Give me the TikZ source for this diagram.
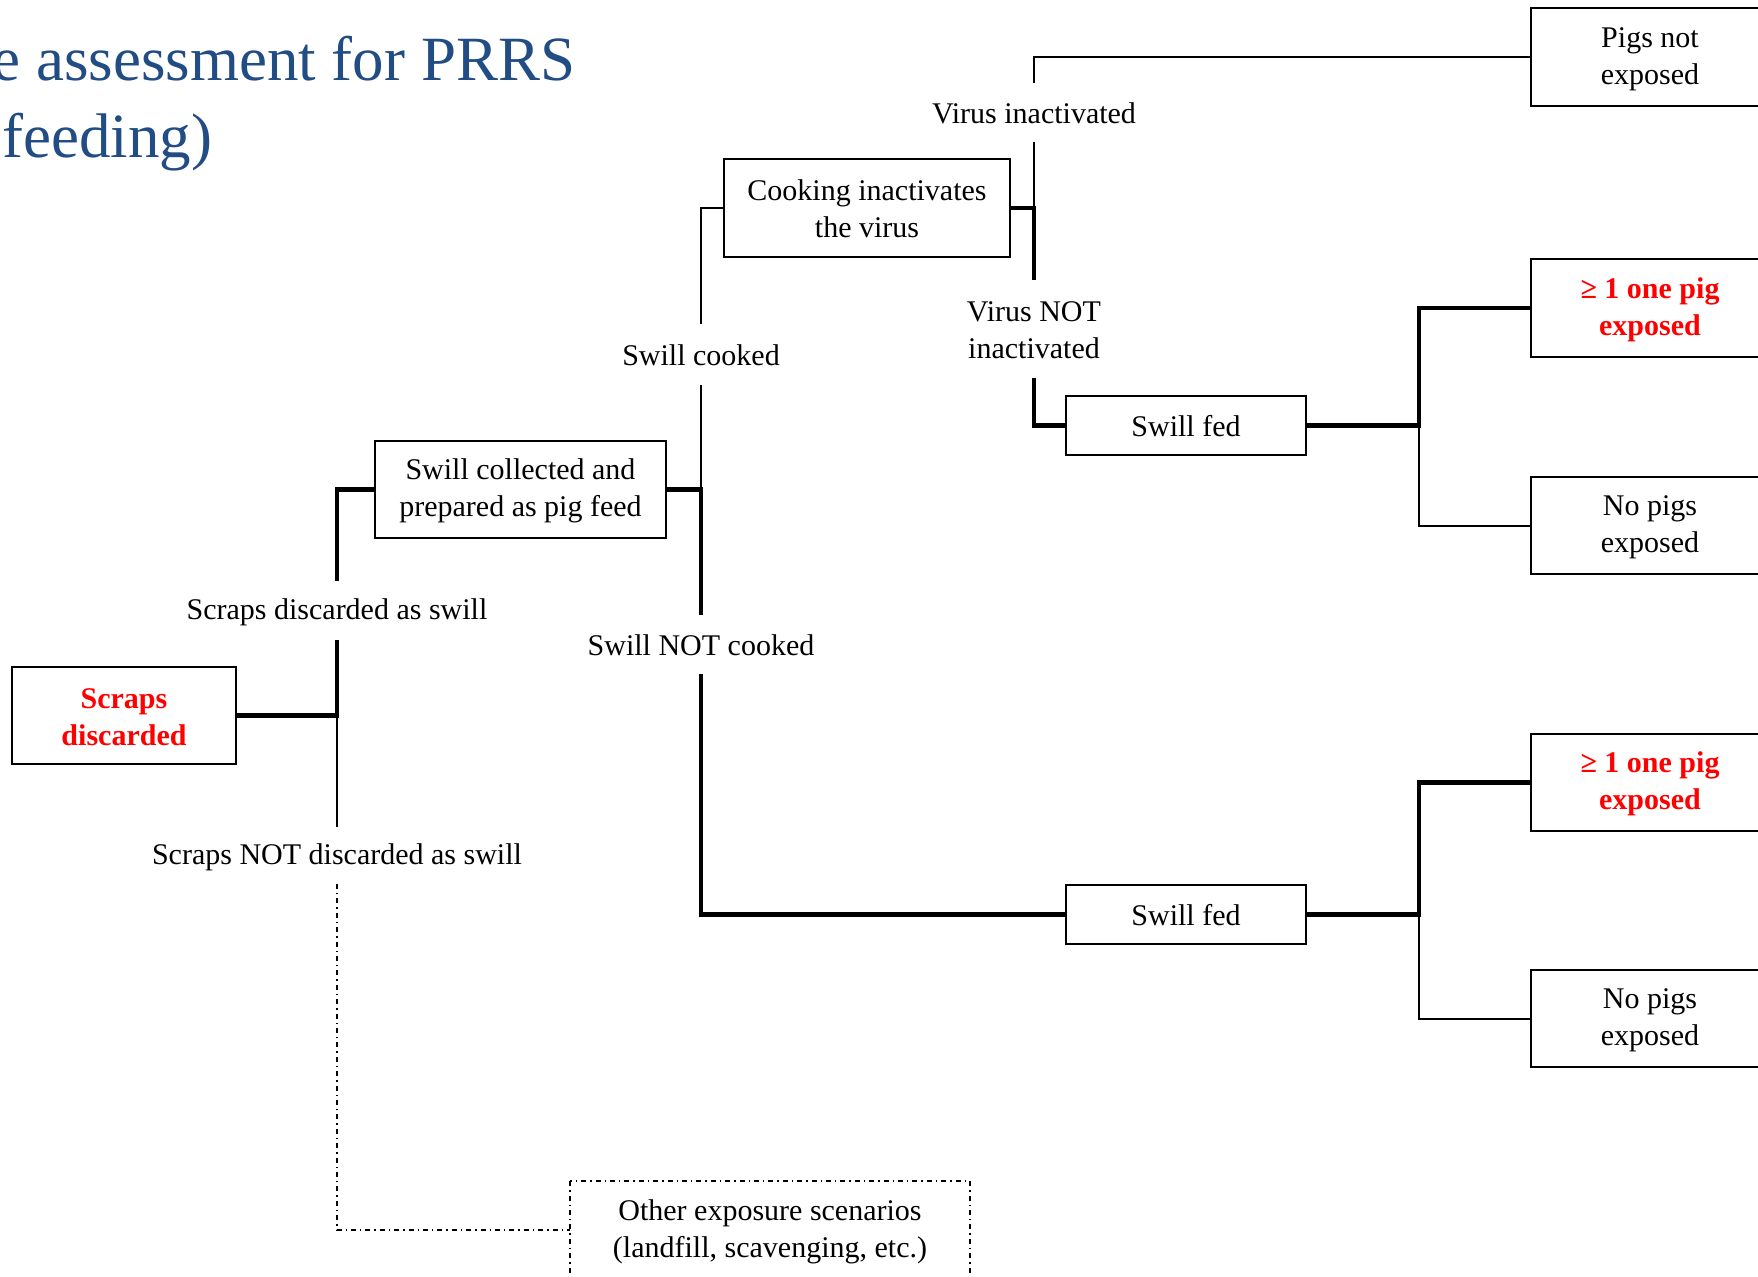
\documentclass[tikz,border=0pt]{standalone}
\usepackage{fontspec}
\setmainfont{Liberation Serif}
\usetikzlibrary{calc}
\definecolor{titleblue}{RGB}{33,76,132}
\definecolor{alertred}{RGB}{255,0,0}
\newcommand\ms{\rule[-1pt]{0pt}{13pt}}
\begin{document}
\begin{tikzpicture}[x=0.5pt,y=-0.5pt,
  every node/.style={font=\fontsize{15}{18.5}\selectfont},
  box/.style={draw=black,line width=0.9pt,inner sep=0pt,align=center},
  redtxt/.style={text=alertred,font=\fontsize{15}{18.5}\selectfont\bfseries},
  lbl/.style={inner sep=0pt,align=center},
  thk/.style={line width=2.25pt},
  thn/.style={line width=1pt},
  dd/.style={line width=0.8pt,dash pattern=on 2.5pt off 2pt on 0.7pt off 2pt}]
\useasboundingbox (0,0) rectangle (1758,1276);
% title
\node[anchor=base west,inner sep=0pt,text=titleblue,font=\fontsize{31.5}{38}\selectfont] (t1) at (-8,80) {e assessment for PRRS};
\node[anchor=base west,inner sep=0pt,text=titleblue,font=\fontsize{31.5}{38}\selectfont] (t2) at (2,157) {feeding)};
% boxes
\node[box,redtxt,minimum width=112pt,minimum height=48.5pt] (sd) at (124,715.5) {\ms Scraps\\\ms discarded};
\node[box,minimum width=145.5pt,minimum height=48.5pt] (sc) at (520.5,489.5) {\ms Swill collected and\\\ms prepared as pig feed};
\node[box,minimum width=143pt,minimum height=49pt] (ck) at (867,208) {\ms Cooking inactivates\\\ms the virus};
\node[box,minimum width=120pt,minimum height=29.5pt] (sf1) at (1186,425.5) {\ms Swill fed};
\node[box,minimum width=120pt,minimum height=29.5pt] (sf2) at (1186,914.5) {\ms Swill fed};
\node[box,minimum width=119pt,minimum height=49pt] (pne) at (1650,57) {\ms Pigs not\\\ms exposed};
\node[box,redtxt,minimum width=119pt,minimum height=49pt] (pe1) at (1650,308) {\ms ≥ 1 one pig\\\ms exposed};
\node[box,minimum width=119pt,minimum height=48.5pt] (np1) at (1650,525.5) {\ms No pigs\\\ms exposed};
\node[box,redtxt,minimum width=119pt,minimum height=48.5pt] (pe2) at (1650,782.5) {\ms ≥ 1 one pig\\\ms exposed};
\node[box,minimum width=119pt,minimum height=48.5pt] (np2) at (1650,1018.5) {\ms No pigs\\\ms exposed};
\node[box,draw=none,minimum width=199pt,minimum height=48pt] (oth) at (770,1230) {\ms Other exposure scenarios\\\ms (landfill, scavenging, etc.)};
\draw[dd] (oth.north west) rectangle (oth.south east);
% labels
\node[lbl,minimum height=29.5pt] (L1) at (337,610.5) {\ms Scraps discarded as swill};
\node[lbl,minimum height=28pt] (L2) at (337,855.5) {\ms Scraps NOT discarded as swill};
\node[lbl,minimum height=30pt] (L3) at (701,354.5) {\ms Swill cooked};
\node[lbl,minimum height=29.5pt] (L4) at (701,644.5) {\ms Swill NOT cooked};
\node[lbl,minimum height=29.5pt] (L5) at (1034,112.5) {\ms Virus inactivated};
\node[lbl,minimum height=49pt] (L6) at (1034,329) {\ms Virus NOT\\\ms inactivated};
% junctions
\coordinate (j1) at (L1.south |- sd.east);
\coordinate (j2) at (L3.south |- sc.east);
\coordinate (j3) at (L5.south |- ck.east);
\coordinate (j4) at ($(sf1.east)+(112,0)$);
\coordinate (j5) at ($(sf2.east)+(112,0)$);
% connectors
\draw[thk] (sd.east) -- (j1) -- (L1.south);
\draw[thk] (L1.north) |- (sc.west);
\draw[thn] (j1) -- (L2.north);
\draw[dd] (L2.south) |- (oth.west);
\draw[thk] (sc.east) -- (j2) -- (L4.north);
\draw[thn] (j2) -- (L3.south);
\draw[thn] (L3.north) |- (ck.west);
\draw[thk] (L4.south) |- (sf2.west);
\draw[thk] (ck.east) -- (j3) -- (L6.north);
\draw[thn] (j3) -- (L5.south);
\draw[thn] (L5.north) |- (pne.west);
\draw[thk] (L6.south) |- (sf1.west);
\draw[thk] (sf1.east) -- (j4) |- (pe1.west);
\draw[thn] (j4) |- (np1.west);
\draw[thk] (sf2.east) -- (j5) |- (pe2.west);
\draw[thn] (j5) |- (np2.west);
\end{tikzpicture}
\end{document}
